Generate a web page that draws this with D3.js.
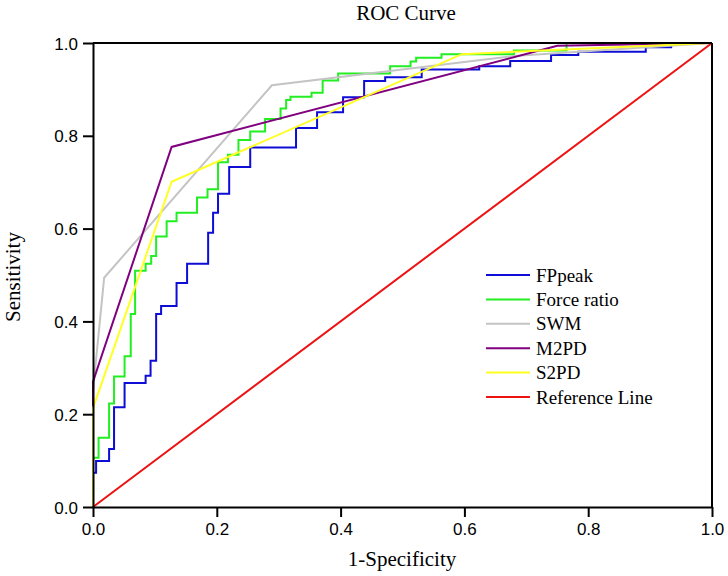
<!DOCTYPE html>
<html><head><meta charset="utf-8">
<script src="https://cdn.jsdelivr.net/npm/d3@7"></script>
<style>body{margin:0;background:#fff}svg{display:block}</style>
</head><body>
<svg id="chart" width="728" height="576"></svg>
<script>
// ---- data ----
const seriesNames = ["FPpeak", "Force ratio", "SWM", "M2PD", "S2PD", "Reference Line"];
const seriesColors = ["#0d0dd6", "#22ee22", "#c4c4c4", "#800080", "#ffff22", "#ee1111"];
const fpPeakFpr = [0,0,0.005,0.026,0.034,0.051,0.085,0.093,0.102,0.110,0.135,0.152,0.186,0.194,0.202,0.220,0.254,0.328,0.362,0.404,0.438,0.472,0.531,0.624,0.674,0.740,0.784,0.893,0.934,1];
const fpPeakTpr = [0,0.074,0.099,0.125,0.215,0.267,0.283,0.315,0.416,0.433,0.483,0.524,0.591,0.634,0.675,0.733,0.775,0.817,0.851,0.883,0.918,0.926,0.943,0.950,0.961,0.974,0.981,0.991,1,1];
const forceFpr = [0,0,0.009,0.026,0.034,0.051,0.061,0.068,0.085,0.094,0.102,0.119,0.135,0.168,0.185,0.202,0.218,0.235,0.254,0.278,0.303,0.312,0.319,0.353,0.371,0.396,0.480,0.513,0.522,0.563,0.680,0.765,1];
const forceTpr = [0,0.106,0.149,0.223,0.281,0.325,0.416,0.509,0.524,0.541,0.583,0.616,0.634,0.667,0.685,0.743,0.759,0.791,0.809,0.836,0.859,0.877,0.884,0.893,0.919,0.934,0.950,0.960,0.968,0.976,0.984,1,1];
const swmFpr = [0,0,0.018,0.289,0.68,1];
const swmTpr = [0,0.25,0.494,0.909,0.972,1];
const m2pdFpr = [0,0,0.127,0.75,1];
const m2pdTpr = [0,0.27,0.776,0.994,1];
const s2pdFpr = [0,0,0.127,0.596,1];
const s2pdTpr = [0,0.213,0.701,0.976,1];
const refFpr = [0,1];
const refTpr = [0,1];
const tickValues = [0,0.2,0.4,0.6,0.8,1.0];

// ---- layout ----
const svg = d3.select("#chart");
const L = 93, R = 712, T = 43, B = 507;
const x = d3.scaleLinear().domain([0,1]).range([L,R]);
const y = d3.scaleLinear().domain([0,1]).range([B,T]);

const series = [
  {fpr: fpPeakFpr, tpr: fpPeakTpr, step: true},
  {fpr: forceFpr, tpr: forceTpr, step: true},
  {fpr: swmFpr, tpr: swmTpr, step: false},
  {fpr: m2pdFpr, tpr: m2pdTpr, step: false},
  {fpr: s2pdFpr, tpr: s2pdTpr, step: false},
  {fpr: refFpr, tpr: refTpr, step: false}
];

series.forEach((s,i)=>{
  const pts = s.fpr.map((v,j)=>[v, s.tpr[j]]);
  const line = d3.line().x(d=>x(d[0])).y(d=>y(d[1]))
    .curve(s.step ? d3.curveStepAfter : d3.curveLinear);
  svg.append("path").attr("d", line(pts)).attr("fill","none")
    .attr("stroke", seriesColors[i]).attr("stroke-width", 2)
    .attr("stroke-linejoin","miter");
});

// axes
const fmt = d3.format(".1f");
const xAxis = d3.axisBottom(x).tickValues(tickValues).tickFormat(fmt).tickSize(10).tickSizeOuter(0);
const yAxis = d3.axisLeft(y).tickValues(tickValues).tickFormat(fmt).tickSize(10).tickSizeOuter(0);
const gx = svg.append("g").attr("transform",`translate(0,${B})`).call(xAxis);
const gy = svg.append("g").attr("transform",`translate(${L},0)`).call(yAxis);
[gx, gy].forEach(g=>{
  g.selectAll("path.domain").attr("stroke","#000").attr("stroke-width",2);
  g.selectAll(".tick line").attr("stroke","#000").attr("stroke-width",2);
  g.selectAll(".tick text").attr("fill","#000")
    .style("font-family","'Liberation Sans', Arial, sans-serif").style("font-size","17px");
});
gx.selectAll(".tick text").attr("y", 16).attr("dy","0.71em");
gy.selectAll(".tick text").attr("x", -15).attr("dy","0.36em");

// top and right border
svg.append("line").attr("x1",L).attr("x2",R).attr("y1",T).attr("y2",T).attr("stroke","#000").attr("stroke-width",2);
svg.append("line").attr("x1",R).attr("x2",R).attr("y1",T).attr("y2",B).attr("stroke","#000").attr("stroke-width",2);

// titles
const serif = "'Liberation Serif', 'Times New Roman', serif";
svg.append("text").attr("x",406).attr("y",20).attr("text-anchor","middle")
  .style("font-family",serif).style("font-size","21px").text("ROC Curve");
svg.append("text").attr("x",402).attr("y",566).attr("text-anchor","middle")
  .style("font-family",serif).style("font-size","21px").text("1-Specificity");
svg.append("text").attr("transform","translate(20,277) rotate(-90)").attr("text-anchor","middle")
  .style("font-family",serif).style("font-size","21px").text("Sensitivity");

// legend
const lg = svg.append("g");
seriesNames.forEach((n,i)=>{
  const yy = 275 + i*24.4;
  lg.append("line").attr("x1",486).attr("x2",530).attr("y1",yy).attr("y2",yy)
    .attr("stroke",seriesColors[i]).attr("stroke-width",2);
  lg.append("text").attr("x",536).attr("y",yy+6.5)
    .style("font-family",serif).style("font-size","19px").text(n);
});
</script>
</body></html>
